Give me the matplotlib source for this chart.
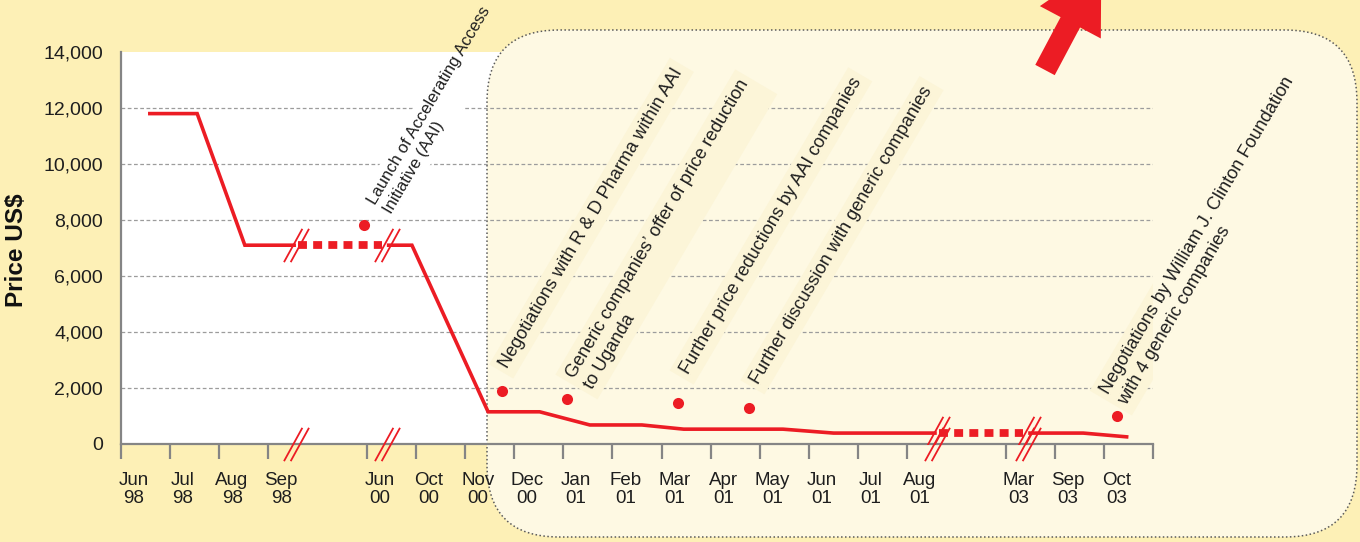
import matplotlib
matplotlib.use("Agg")
import matplotlib.pyplot as plt
from matplotlib.patches import FancyBboxPatch, FancyArrow
from matplotlib.path import Path

# ---------------- data ----------------
month_labels = ["Jun\n98", "Jul\n98", "Aug\n98", "Sep\n98", "Jun\n00", "Oct\n00",
                "Nov\n00", "Dec\n00", "Jan\n01", "Feb\n01", "Mar\n01", "Apr\n01",
                "May\n01", "Jun\n01", "Jul\n01", "Aug\n01", "Mar\n03", "Sep\n03",
                "Oct\n03"]
month_slots = [0, 1, 2, 3, 5, 6, 7, 8, 9, 10, 11, 12, 13, 14, 15, 16, 18, 19, 20]

# price path (slot position, US$) in three continuous stretches
stretch1_x = [0.55, 1.55, 2.52, 3.56]
stretch1_y = [11800, 11800, 7100, 7100]
stretch2_x = [5.41, 5.92, 7.47, 8.52, 9.54, 10.6, 11.45, 13.47, 14.5, 16.6]
stretch2_y = [7100, 7100, 1150, 1150, 680, 680, 530, 530, 390, 390]
stretch3_x = [18.46, 19.58, 20.5]
stretch3_y = [390, 390, 250]

# periods without records, bridged by a dotted segment
gap_start_x = [3.56, 16.6]
gap_end_x = [5.41, 18.46]
gap_y = [7100, 390]

# milestones
event_x = [4.95, 7.75, 9.07, 11.34, 12.78, 20.27]
event_y = [7820, 1890, 1610, 1460, 1290, 1000]
event_text = [
    "Launch of Accelerating Access\nInitiative (AAI)",
    "Negotiations with R & D Pharma within AAI",
    "Generic companies\u2019 offer of price reduction\nto Uganda",
    "Further price reductions by AAI companies",
    "Further discussion with generic companies",
    "Negotiations by William J. Clinton Foundation\nwith 4 generic companies",
]

y_ticks = [0, 2000, 4000, 6000, 8000, 10000, 12000, 14000]
grid_values = [2000, 4000, 6000, 8000, 10000, 12000]

# ---------------- style ----------------
RED = "#ec1c24"
OUTER = "#fdf0b6"
INNER = "#fef9e3"
BAND = "#fcf5d8"
GREY = "#858585"
FONT = ["Liberation Sans", "DejaVu Sans"]

# anchor offsets (pixels, start of the last text line), sizes and band colours
note_offsets = [(24, 12), (6, 22), (22, 11), (10, 28), (10, 23), (6, 12)]
note_sizes = [12.0, 13.1, 13.1, 13.1, 13.1, 13.1]
note_bands = ["white", BAND, BAND, BAND, BAND, BAND]

fig = plt.figure(figsize=(13.6, 5.42), dpi=100, facecolor=OUTER)
ax = fig.add_axes([121 / 1360, 98 / 542, 1032 / 1360, 392 / 542])
ax.set_facecolor("white")

# rounded, dotted panel behind the later period
panel = FancyBboxPatch((4.87, 0.05), 8.70, 5.07,
                       boxstyle="round,pad=0,rounding_size=0.72",
                       transform=fig.dpi_scale_trans, facecolor=INNER,
                       edgecolor="#5a5a5a", linewidth=1.1,
                       linestyle=(0, (1, 1.6)), zorder=0.3, clip_on=False)
ax.add_patch(panel)
ax.set_xlim(0, 21)
ax.set_ylim(0, 14000)

# horizontal dashed grid
ax.hlines(grid_values, 0, 21, colors="#9c9c9c", linewidth=0.9,
          linestyles=(0, (3, 2)), zorder=0.6)

# milestone notes: band first (clipped to the plot), then the text itself
for x, y, txt, (dx, dy), size, band in zip(event_x, event_y, event_text,
                                           note_offsets, note_sizes,
                                           note_bands):
    common = dict(xy=(x, y), xytext=(dx, dy), textcoords="offset pixels",
                  rotation=59.5, rotation_mode="anchor", ha="left",
                  va="baseline", fontsize=size, family=FONT, linespacing=1.3)
    ax.annotate(txt, color=(0, 0, 0, 0), clip_on=True, zorder=0.8,
                bbox=dict(boxstyle="square,pad=0.3", facecolor=band,
                          edgecolor="none"), **common)
    ax.annotate(txt, color="#1e1e1e", annotation_clip=False, zorder=6,
                **common)

# price line
for xs, ys in [(stretch1_x, stretch1_y), (stretch2_x, stretch2_y),
               (stretch3_x, stretch3_y)]:
    ax.plot(xs, ys, color=RED, linewidth=2.6, solid_joinstyle="miter",
            solid_capstyle="butt", zorder=3)
for x0, x1, y in zip(gap_start_x, gap_end_x, gap_y):
    ax.plot([x0 + 0.04, x1 - 0.1], [y, y], color=RED, linewidth=5.6,
            linestyle=(0, (1.15, 0.8)), dash_capstyle="butt", zorder=3)

# break symbols on the line and on the axis
slash = Path([(-0.75, -1.0), (0.35, 1.0), (-0.35, -1.0), (0.75, 1.0)],
             [Path.MOVETO, Path.LINETO, Path.MOVETO, Path.LINETO])
break_x = gap_start_x + gap_end_x
break_line_y = gap_y + gap_y
for ys, clip in [(break_line_y, True), ([0] * len(break_x), False)]:
    ax.plot(break_x, ys, linestyle="none", marker=slash, markersize=24,
            markeredgecolor=RED, markeredgewidth=1.3, fillstyle="none",
            zorder=4, clip_on=clip)

# milestone dots
ax.plot(event_x, event_y, linestyle="none", marker="o", markersize=8,
        color=RED, markeredgewidth=0, zorder=5)

# axes
for side in ("top", "right"):
    ax.spines[side].set_visible(False)
for side in ("left", "bottom"):
    ax.spines[side].set_color(GREY)
    ax.spines[side].set_linewidth(1.6)

ax.set_xticks(month_slots + [21])
ax.set_xticklabels([])
ax.set_xticks([s + 0.26 for s in month_slots], minor=True)
ax.set_xticklabels(month_labels, minor=True, family=FONT, fontsize=13.5,
                   linespacing=1.1, color="#1e1e1e")
ax.tick_params(axis="x", which="major", direction="out", length=11,
               width=1.6, color=GREY)
ax.tick_params(axis="x", which="minor", length=0, pad=20)

ax.set_yticks(y_ticks)
ax.set_yticklabels([f"{v:,}" for v in y_ticks], family=FONT,
                   fontsize=14, color="#1e1e1e")
ax.tick_params(axis="y", length=0, pad=13)

fig.text(17 / 1360, 292 / 542, "Price US$", rotation=90, ha="center",
         va="center", fontsize=17.5, fontweight="bold", family=FONT,
         color="#111111")

# red arrow leaving the panel at the top
arrow = FancyArrow(10.45, 4.72, 0.563, 1.06, width=0.22, head_width=0.69,
                   head_length=0.66, length_includes_head=True,
                   transform=fig.dpi_scale_trans, color=RED, linewidth=0,
                   zorder=10)
fig.add_artist(arrow)

fig.savefig("out.png", dpi=100, facecolor=OUTER)
